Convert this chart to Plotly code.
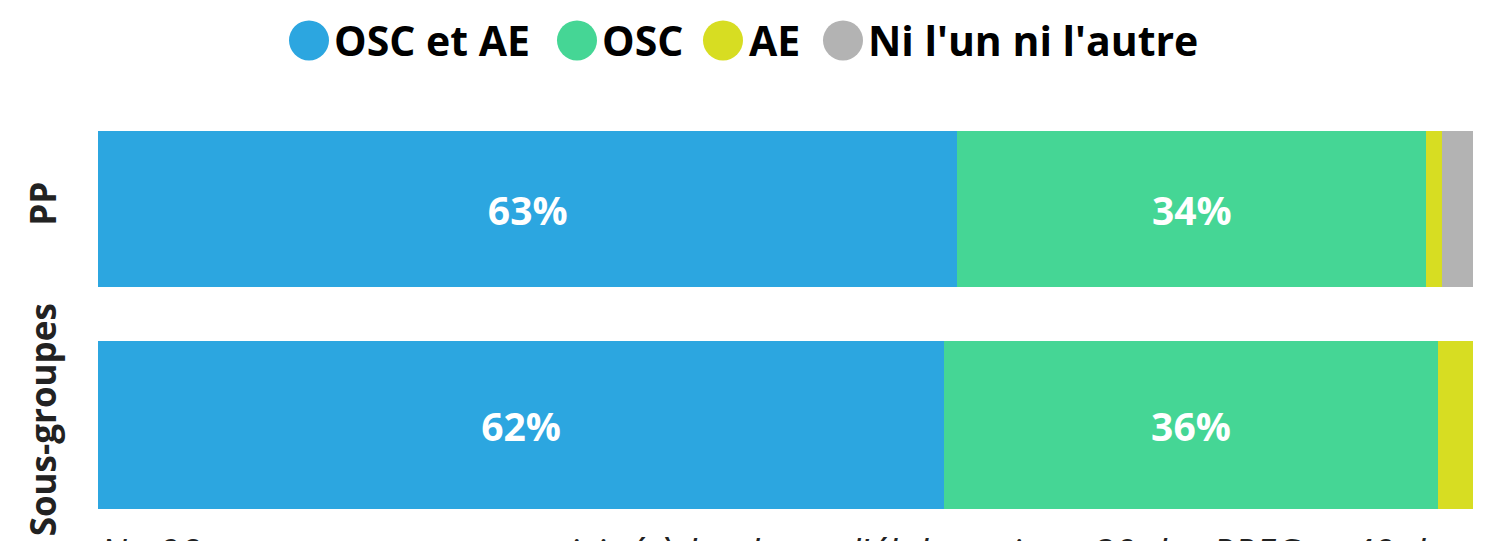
import plotly.graph_objects as go

# ---- data ----
groups = ["PP", "Sous-groupes"]
series = ["OSC et AE", "OSC", "AE", "Ni l'un ni l'autre"]
counts = {
    "OSC et AE": [55, 24],
    "OSC": [30, 14],
    "AE": [1, 1],
    "Ni l'un ni l'autre": [2, 0],
}
totals = [88, 39]
colors = ["#2CA6E0", "#45D695", "#D7DD22", "#B3B3B3"]
note = "N= 98 personnes ayant participé à la phase d'élaboration : 30 des PPEG et 40 des sous-groupes"

FONT = "Open Sans"
OFF = 8  # page body margin
W, H = 1503 - OFF, 541 - OFF
ML, MR, MT, MB = 98 - OFF, 30, 101 - OFF, 5
pw = W - ML - MR
ph = H - MT - MB
PB = H - MB + OFF  # plot bottom in page pixels

fig = go.Figure()
for s, c in zip(series, colors):
    pct = [100 * v / t for v, t in zip(counts[s], totals)]
    txt = [f"{round(p + 1e-9):.0f}%" if p >= 10 else "" for p in pct]
    fig.add_trace(go.Bar(
        y=groups, x=pct, orientation="h", name=s,
        marker=dict(color=c, line=dict(width=0)),
        width=[0.72, 0.78],
        text=txt, textposition="inside", insidetextanchor="middle",
        textfont=dict(family=FONT, size=39, color="white", weight="bold"),
        showlegend=False, hoverinfo="skip",
    ))

fig.update_layout(
    barmode="stack",
    width=W, height=H,
    margin=dict(l=ML, r=MR, t=MT, b=MB),
    plot_bgcolor="white", paper_bgcolor="white",
    font=dict(family=FONT),
    xaxis=dict(range=[0, 100], visible=False, fixedrange=True),
    yaxis=dict(
        type="category", categoryarray=groups, autorange="reversed",
        range=[1.5, -0.5],
        tickangle=-90, ticks="", showline=False, showgrid=False, zeroline=False,
        tickfont=dict(family=FONT, size=35, color="#222222", weight="bold"),
        ticklabelstandoff=34,
    ),
)

# manual legend with large circles
leg_cx = [309, 577, 723, 843]
leg_tx = [332, 600, 747, 866]
leg_cy = 40
shapes = []
annotations = []
for s, c, cx, tx in zip(series, colors, leg_cx, leg_tx):
    shapes.append(dict(
        type="circle", xref="paper", yref="paper",
        xsizemode="pixel", ysizemode="pixel",
        xanchor=(cx - 98) / pw, yanchor=(PB - leg_cy) / ph,
        x0=-20, x1=20, y0=-20, y1=20,
        fillcolor=c, line=dict(width=0),
    ))
    annotations.append(dict(
        text=s, xref="paper", yref="paper",
        x=(tx - 98) / pw, y=(PB - leg_cy) / ph,
        xanchor="left", yanchor="middle", showarrow=False,
        font=dict(family=FONT, size=41, color="black", weight="bold"),
    ))

annotations.append(dict(
    text=f"<i>{note}</i>", xref="paper", yref="paper",
    x=0, y=0, xanchor="left", yanchor="top", yshift=9, showarrow=False,
    font=dict(family=FONT, size=38, color="#222222"),
))

fig.update_layout(shapes=shapes, annotations=annotations)
fig.write_html("out.html")
